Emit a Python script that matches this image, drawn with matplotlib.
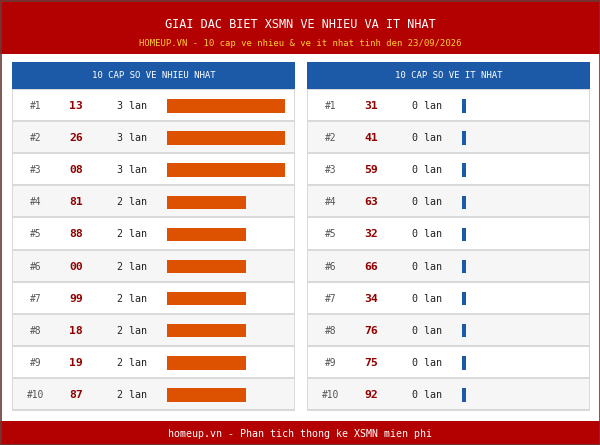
import matplotlib
matplotlib.use("Agg")
import matplotlib.pyplot as plt
from matplotlib.patches import Rectangle

plt.rcParams['font.family'] = ['DejaVu Sans Mono']

# data
title = "GIAI DAC BIET XSMN VE NHIEU VA IT NHAT"
subtitle = "HOMEUP.VN - 10 cap ve nhieu & ve it nhat tinh den 23/09/2026"
footer = "homeup.vn - Phan tich thong ke XSMN mien phi"

hot_title = "10 CAP SO VE NHIEU NHAT"
hot_numbers = ["13", "26", "08", "81", "88", "00", "99", "18", "19", "87"]
hot_counts = [3, 3, 3, 2, 2, 2, 2, 2, 2, 2]

cold_title = "10 CAP SO VE IT NHAT"
cold_numbers = ["31", "41", "59", "63", "32", "66", "34", "76", "75", "92"]
cold_counts = [0, 0, 0, 0, 0, 0, 0, 0, 0, 0]

RED = "#b30000"
BLUE = "#1c5aa8"
ORANGE = "#dc5200"
NUM_RED = "#900000"

W, H = 600, 445
fig = plt.figure(figsize=(W / 100, H / 100), dpi=100)
ax = fig.add_axes([0, 0, 1, 1])
ax.set_xlim(0, W)
ax.set_ylim(H, 0)
ax.axis("off")

# page background + border
ax.add_patch(Rectangle((0, 0), W, H, facecolor="white", edgecolor="none"))

# header
ax.add_patch(Rectangle((0, 0), W, 54, facecolor=RED, edgecolor="none"))
ax.text(W / 2, 24, title, color="white", fontsize=8.6, ha="center", va="center")
ax.text(W / 2, 43, subtitle, color="#ffcf3a", fontsize=6.4, ha="center", va="center")

# footer
ax.add_patch(Rectangle((0, 421), W, H - 421, facecolor=RED, edgecolor="none"))
ax.text(W / 2, 434, footer, color="white", fontsize=7.2, ha="center", va="center")

# outer frame
ax.add_patch(Rectangle((0.5, 0.5), W - 1, H - 1, facecolor="none",
                       edgecolor="#6a3a3a", linewidth=1.2))

row_top0 = 89
row_pitch = 32.1
px_per_count = 118 / 3  # bar length scale
min_bar = 4


def panel(x0, head, numbers, counts, bar_color):
    pw = 283
    # header strip
    ax.add_patch(Rectangle((x0, 62), pw, 27, facecolor=BLUE, edgecolor="none"))
    ax.text(x0 + pw / 2, 75.5, head, color="white", fontsize=6.5,
            ha="center", va="center")
    n = len(numbers)
    ax.add_patch(Rectangle((x0, row_top0), pw, row_pitch * n + 1,
                           facecolor="#d9d9d9", edgecolor="none"))
    tops = [row_top0 + row_pitch * i for i in range(n)]
    for i, top in enumerate(tops):
        bg = "white" if i % 2 == 0 else "#f6f6f6"
        ax.add_patch(Rectangle((x0 + 1, top + 1), pw - 2, row_pitch - 2,
                               facecolor=bg, edgecolor="none"))
        cy = top + 17
        ax.text(x0 + 24, cy, "#%d" % (i + 1), color="#555555", fontsize=6.9,
                ha="center", va="center")
        ax.text(x0 + 64, cy, numbers[i], color=NUM_RED, fontsize=8.2,
                fontweight="bold", ha="center", va="center")
        ax.text(x0 + 105, cy, "%d lan" % counts[i], color="#222222",
                fontsize=7.2, ha="left", va="center")
    widths = [max(c * px_per_count, min_bar) for c in counts]
    centers = [t + 17 for t in tops]
    ax.barh(centers, widths, height=13.5, left=x0 + 155, color=bar_color,
            edgecolor="none")


panel(12, hot_title, hot_numbers, hot_counts, ORANGE)
panel(307, cold_title, cold_numbers, cold_counts, BLUE)

fig.savefig("out.png", dpi=100)
